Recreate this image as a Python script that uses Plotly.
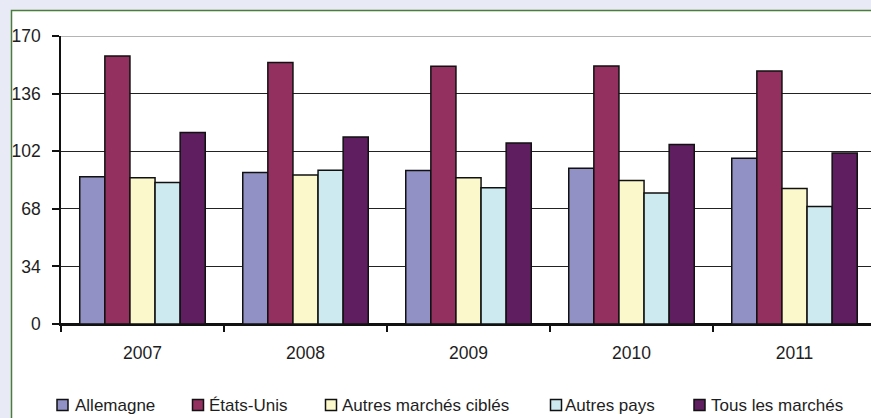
import plotly.graph_objects as go

# ---- data ----
years = ["2007", "2008", "2009", "2010", "2011"]
allemagne = [86.9, 89.4, 90.6, 92.0, 97.9]
etats_unis = [158.2, 154.3, 152.1, 152.3, 149.4]
autres_marches = [86.3, 88.0, 86.3, 84.7, 80.0]
autres_pays = [83.5, 90.8, 80.4, 77.4, 69.4]
tous_marches = [113.0, 110.4, 106.9, 106.0, 101.0]
y_ticks = [0, 34, 68, 102, 136, 170]

series_names = ["Allemagne", "États-Unis", "Autres marchés ciblés", "Autres pays", "Tous les marchés"]
series_values = [allemagne, etats_unis, autres_marches, autres_pays, tous_marches]
series_colors = ["#9191c6", "#93305f", "#fbf8cc", "#cdeaf0", "#5e1e5f"]

# legend layout (pixel x of each key square's centre, and of its label start)
legend_key_x = [62.5, 198, 331, 556, 699.5]
legend_text_x = [74, 208, 341, 564, 710]
LEGEND_Y = 405
KEY = 11

W, H = 871, 418
ML, MR, MT, MB = 61, 0, 36, 94
PW = W - ML - MR
PH = H - MT - MB
CAT_W = 163.0

def px_x(p):
    return (p - ML) / PW

def px_y(p):
    return (H - MB - p) / PH

FONT = "Liberation Sans, Arial, sans-serif"
TXT = "#1e1e1e"

fig = go.Figure()
for name, vals, col in zip(series_names, series_values, series_colors):
    fig.add_trace(go.Bar(
        x=years, y=vals, name=name, showlegend=False,
        marker=dict(color=col, line=dict(color="#111111", width=1.5)),
    ))

shapes = [
    # white chart frame with green border
    dict(type="rect", xref="paper", yref="paper", layer="below",
         x0=px_x(11.5), x1=1.2, y0=-0.6, y1=px_y(10.5),
         fillcolor="white", line=dict(color="#4a7d3a", width=1.5)),
    # light top line at the max of the axis
    dict(type="line", xref="paper", yref="y", layer="above",
         x0=0, x1=1, y0=y_ticks[-1], y1=y_ticks[-1],
         line=dict(color="#b4b4b4", width=2)),
]
annotations = []
for name, col, kx, tx in zip(series_names, series_colors, legend_key_x, legend_text_x):
    shapes.append(dict(
        type="rect", xref="paper", yref="paper", layer="above",
        x0=px_x(kx - KEY / 2), x1=px_x(kx + KEY / 2),
        y0=px_y(LEGEND_Y + KEY / 2), y1=px_y(LEGEND_Y - KEY / 2),
        fillcolor=col, line=dict(color="#111111", width=1.5),
    ))
    annotations.append(dict(
        xref="paper", yref="paper", x=px_x(tx), y=px_y(LEGEND_Y),
        xanchor="left", yanchor="middle", showarrow=False,
        text=name, font=dict(family=FONT, size=17, color=TXT),
        borderpad=0,
    ))

fig.update_layout(
    width=W, height=H,
    margin=dict(l=ML, r=MR, t=MT, b=MB, pad=0),
    paper_bgcolor="#e8eaf5",
    plot_bgcolor="white",
    barmode="group",
    bargap=0.23,
    bargroupgap=0,
    font=dict(family=FONT, size=17, color=TXT),
    showlegend=False,
    xaxis=dict(
        type="category",
        range=[-0.5, -0.5 + PW / CAT_W],
        showgrid=False,
        showline=True, linecolor="#111111", linewidth=1.5,
        ticks="outside", tickson="boundaries", ticklen=6, tickwidth=1.5, tickcolor="#111111",
        ticklabelstandoff=12,
        tickfont=dict(family=FONT, size=17.5, color=TXT),
        zeroline=False,
        fixedrange=True,
    ),
    yaxis=dict(
        range=[0, 170],
        tickvals=y_ticks,
        ticktext=[str(v) for v in y_ticks],
        showgrid=True, gridcolor="#222222", gridwidth=1.2,
        showline=True, linecolor="#111111", linewidth=1.5,
        ticks="outside", ticklen=7, tickwidth=1.5, tickcolor="#111111",
        ticklabelstandoff=8,
        tickfont=dict(family=FONT, size=17.5, color=TXT),
        zeroline=True, zerolinecolor="#111111", zerolinewidth=1.5,
        fixedrange=True,
    ),
    shapes=shapes,
    annotations=annotations,
)

fig.write_html("out.html")
